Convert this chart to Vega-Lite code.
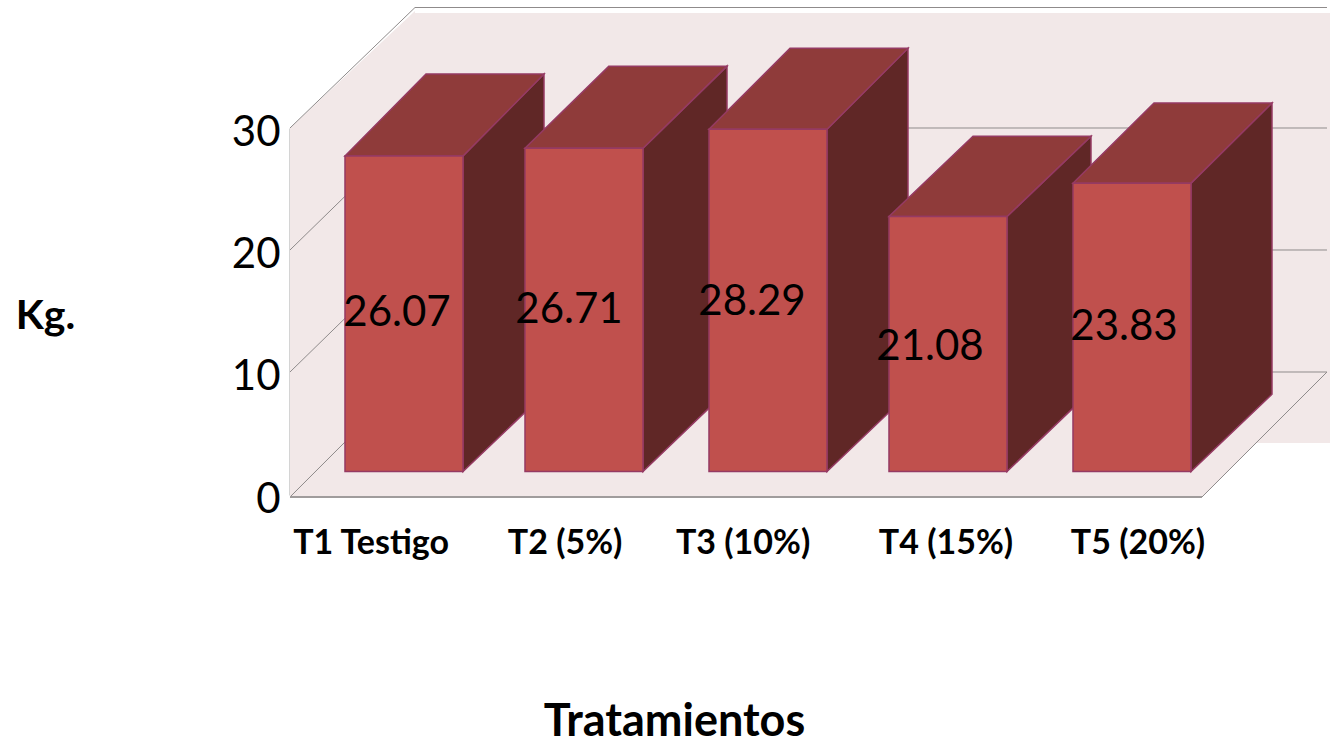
{
  "$schema": "https://vega.github.io/schema/vega-lite/v6.json",
  "width": 1330,
  "height": 744,
  "autosize": "none",
  "padding": 0,
  "background": "white",
  "config": {"view": {"stroke": null}, "font": "Lato"},
  "datasets": {
    "bars": [
      {"treatment": "T1 Testigo", "kg": 26.07, "left": 0.6758, "right": 1.3242, "label_across": 0.9615, "label_level": 13.09, "name_across": 0.819},
      {"treatment": "T2 (5%)", "kg": 26.71, "left": 1.6648, "right": 2.3132, "label_across": 1.9066, "label_level": 13.34, "name_across": 1.885},
      {"treatment": "T3 (10%)", "kg": 28.29, "left": 2.6758, "right": 3.3242, "label_across": 2.9121, "label_level": 14.0, "name_across": 2.863},
      {"treatment": "T4 (15%)", "kg": 21.08, "left": 3.6648, "right": 4.3132, "label_across": 3.8901, "label_level": 10.28, "name_across": 3.978},
      {"treatment": "T5 (20%)", "kg": 23.83, "left": 4.6758, "right": 5.3242, "label_across": 4.956, "label_level": 11.94, "name_across": 5.033}
    ],
    "sides": [
      {"treatment": "T1 Testigo", "across": 1.3242, "upper": 26.07, "lower": 0},
      {"treatment": "T1 Testigo", "across": 1.7692, "upper": 32.85, "lower": 6.38},
      {"treatment": "T2 (5%)", "across": 2.3132, "upper": 26.71, "lower": 0},
      {"treatment": "T2 (5%)", "across": 2.7747, "upper": 33.5, "lower": 6.66},
      {"treatment": "T3 (10%)", "across": 3.3242, "upper": 28.29, "lower": 0},
      {"treatment": "T3 (10%)", "across": 3.7692, "upper": 34.98, "lower": 6.38},
      {"treatment": "T4 (15%)", "across": 4.3132, "upper": 21.08, "lower": 0},
      {"treatment": "T4 (15%)", "across": 4.7747, "upper": 27.7, "lower": 6.66},
      {"treatment": "T5 (20%)", "across": 5.3242, "upper": 23.83, "lower": 0},
      {"treatment": "T5 (20%)", "across": 5.7692, "upper": 30.45, "lower": 6.38}
    ],
    "tops": [
      {"treatment": "T1 Testigo", "from": 0.6758, "to": 1.3242, "level": 26.07},
      {"treatment": "T1 Testigo", "from": 1.1208, "to": 1.7692, "level": 32.85},
      {"treatment": "T2 (5%)", "from": 1.6648, "to": 2.3132, "level": 26.71},
      {"treatment": "T2 (5%)", "from": 2.1263, "to": 2.7747, "level": 33.5},
      {"treatment": "T3 (10%)", "from": 2.6758, "to": 3.3242, "level": 28.29},
      {"treatment": "T3 (10%)", "from": 3.1208, "to": 3.7692, "level": 34.98},
      {"treatment": "T4 (15%)", "from": 3.6648, "to": 4.3132, "level": 21.08},
      {"treatment": "T4 (15%)", "from": 4.1263, "to": 4.7747, "level": 27.7},
      {"treatment": "T5 (20%)", "from": 4.6758, "to": 5.3242, "level": 23.83},
      {"treatment": "T5 (20%)", "from": 5.1208, "to": 5.7692, "level": 30.45}
    ],
    "frame": [
      {"edge": "floor", "step": 1, "across": 0.3736, "level": -2.107},
      {"edge": "floor", "step": 2, "across": 1.0604, "level": 8.223},
      {"edge": "floor", "step": 3, "across": 6.0714, "level": 8.223},
      {"edge": "floor", "step": 4, "across": 5.3846, "level": -2.107},
      {"edge": "grid10", "step": 1, "across": 0.3736, "level": 8.223},
      {"edge": "grid10", "step": 2, "across": 1.0604, "level": 18.306},
      {"edge": "grid10", "step": 3, "across": 6.0714, "level": 18.306},
      {"edge": "grid20", "step": 1, "across": 0.3736, "level": 18.306},
      {"edge": "grid20", "step": 2, "across": 1.0604, "level": 28.388},
      {"edge": "grid20", "step": 3, "across": 6.0714, "level": 28.388},
      {"edge": "grid30", "step": 1, "across": 0.3736, "level": 28.388},
      {"edge": "grid30", "step": 2, "across": 1.0604, "level": 38.347},
      {"edge": "grid30", "step": 3, "across": 6.0714, "level": 38.347}
    ]
  },
  "layer": [
    {
      "data": {"name": "bars"},
      "mark": {"type": "point", "opacity": 0},
      "encoding": {
        "x": {
          "field": "treatment",
          "type": "nominal",
          "scale": {
            "type": "point",
            "domain": ["T1 Testigo", "T2 (5%)", "T3 (10%)", "T4 (15%)", "T5 (20%)"],
            "range": [371, 1138]
          },
          "axis": {
            "orient": "bottom",
            "offset": -247,
            "domain": false,
            "ticks": false,
            "labels": false,
            "title": "Tratamientos",
            "titleFont": "Lato",
            "titleFontWeight": "bold",
            "titleFontSize": 45,
            "titleColor": "#000000",
            "titleX": 674,
            "titleY": 224,
            "titleAlign": "center",
            "titleBaseline": "middle"
          }
        },
        "y": {
          "field": "kg",
          "type": "quantitative",
          "scale": {"domain": [0, 30], "range": [495, 128], "nice": false},
          "axis": {
            "orient": "left",
            "offset": -290,
            "values": [0, 10, 20, 30],
            "grid": false,
            "ticks": false,
            "domainColor": "#aaaaaa",
            "domainWidth": 2,
            "labelFont": "Lato",
            "labelFontSize": 42,
            "labelColor": "#000000",
            "labelPadding": 10,
            "labelOffset": 4,
            "title": "Kg.",
            "titleFont": "Lato",
            "titleFontWeight": "bold",
            "titleFontSize": 41,
            "titleColor": "#000000",
            "titleAngle": 0,
            "titleX": -245,
            "titleY": 316,
            "titleAlign": "center",
            "titleBaseline": "middle"
          }
        }
      }
    },
    {
      "encoding": {
        "x": {"type": "quantitative", "scale": {"domain": [1, 5], "range": [404, 1132], "nice": false, "zero": false}, "axis": null},
        "y": {"type": "quantitative", "scale": {"domain": [0, 30], "range": [471.5, 108.5], "nice": false, "zero": false}, "axis": null}
      },
      "layer": [
        {
          "description": "Back wall of the plot box",
          "data": {"values": [{"from": 1.0604, "to": 6.0879, "lower": 2.355, "upper": 37.89}]},
          "mark": {"type": "rect", "fill": "#f2e8e8"},
          "encoding": {
            "x": {"field": "from"},
            "x2": {"field": "to"},
            "y": {"field": "lower"},
            "y2": {"field": "upper"}
          }
        },
        {
          "description": "Left wall of the plot box",
          "data": {"values": [
            {"across": 0.3736, "lower": -2.107, "upper": 28.388},
            {"across": 1.0604, "lower": 8.223, "upper": 38.06}
          ]},
          "mark": {"type": "area", "fill": "#f2e8e8"},
          "encoding": {
            "x": {"field": "across"},
            "y": {"field": "upper", "stack": null},
            "y2": {"field": "lower"}
          }
        },
        {
          "description": "Floor of the plot box",
          "data": {"values": [
            {"from": 0.3736, "to": 5.3846, "level": -2.107},
            {"from": 1.0604, "to": 6.0714, "level": 8.223}
          ]},
          "mark": {"type": "area", "orient": "horizontal", "fill": "#f2e8e8"},
          "encoding": {
            "x": {"field": "from", "stack": null},
            "x2": {"field": "to"},
            "y": {"field": "level"}
          }
        },
        {
          "description": "Gridlines wrapping the walls, and the floor outline",
          "data": {"name": "frame"},
          "mark": {"type": "line", "stroke": "#8f8b8b", "strokeWidth": 1},
          "encoding": {
            "x": {"field": "across"},
            "y": {"field": "level"},
            "detail": {"field": "edge"},
            "order": {"field": "step", "type": "quantitative"}
          }
        },
        {
          "description": "Front edge of the floor",
          "data": {"values": [{"from": 0.3736, "to": 5.3846, "level": -2.107}]},
          "mark": {"type": "rule", "stroke": "#a09c9c", "strokeWidth": 2},
          "encoding": {
            "x": {"field": "from"},
            "x2": {"field": "to"},
            "y": {"field": "level"}
          }
        },
        {
          "description": "Shaded right side of each bar",
          "data": {"name": "sides"},
          "mark": {"type": "area", "fill": "#602726", "stroke": "#953a63", "strokeWidth": 1.5},
          "encoding": {
            "x": {"field": "across"},
            "y": {"field": "upper", "stack": null},
            "y2": {"field": "lower"},
            "detail": {"field": "treatment"}
          }
        },
        {
          "description": "Top of each bar",
          "data": {"name": "tops"},
          "mark": {"type": "area", "orient": "horizontal", "fill": "#8f3b3a", "stroke": "#953a63", "strokeWidth": 1.5},
          "encoding": {
            "x": {"field": "from", "stack": null},
            "x2": {"field": "to"},
            "y": {"field": "level"},
            "detail": {"field": "treatment"}
          }
        },
        {
          "description": "Front of each bar",
          "data": {"name": "bars"},
          "mark": {"type": "rect", "fill": "#c0504d", "stroke": "#953a63", "strokeWidth": 1.5},
          "encoding": {
            "x": {"field": "left"},
            "x2": {"field": "right"},
            "y": {"field": "kg"},
            "y2": {"datum": 0}
          }
        },
        {
          "description": "Value printed on each bar",
          "data": {"name": "bars"},
          "mark": {"type": "text", "font": "Lato", "fontSize": 42, "color": "#000000", "align": "center", "baseline": "middle"},
          "encoding": {
            "x": {"field": "label_across"},
            "y": {"field": "label_level"},
            "text": {"field": "kg", "type": "quantitative", "format": ".2f"}
          }
        },
        {
          "description": "Treatment names under the floor",
          "data": {"name": "bars"},
          "mark": {"type": "text", "font": "Lato", "fontWeight": "bold", "fontSize": 34, "color": "#000000", "align": "center", "baseline": "middle"},
          "encoding": {
            "x": {"field": "name_across"},
            "y": {"datum": -6.0},
            "text": {"field": "treatment", "type": "nominal"}
          }
        }
      ]
    }
  ],
  "resolve": {"scale": {"x": "independent", "y": "independent"}}
}
